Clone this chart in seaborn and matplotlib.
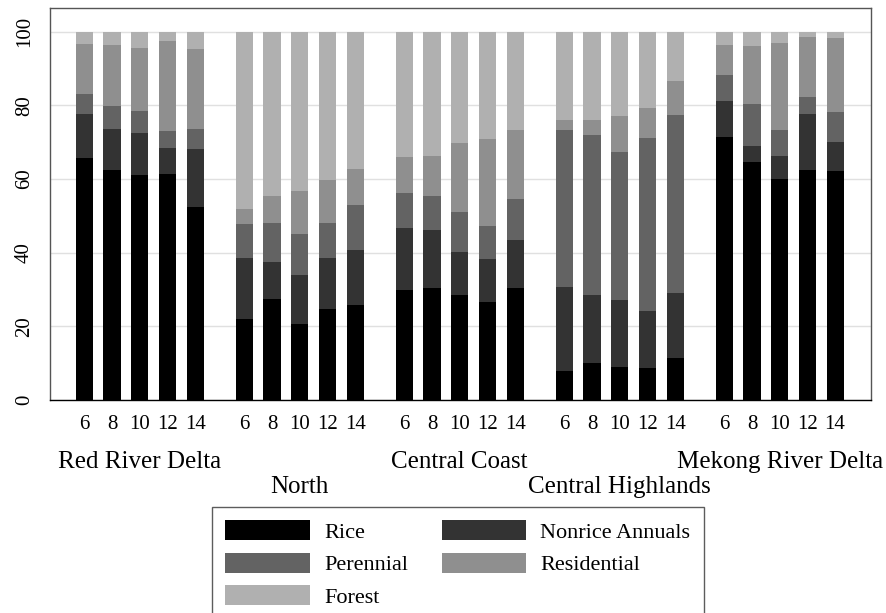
import numpy as np
import pandas as pd
import matplotlib
matplotlib.use("Agg")
import matplotlib.pyplot as plt
from matplotlib.patches import Patch
import seaborn as sns

sns.set_style("white")
plt.rcParams["font.family"] = ["Liberation Serif", "DejaVu Serif"]
plt.rcParams["text.color"] = "black"
plt.rcParams["xtick.labelcolor"] = "black"
plt.rcParams["ytick.labelcolor"] = "black"

# data: share of land (%) by region and survey year
regions = ["Red River Delta", "North", "Central Coast", "Central Highlands", "Mekong River Delta"]
years = ["6", "8", "10", "12", "14"]

rice = [65.8, 62.4, 61.0, 61.4, 52.3,
        21.9, 27.3, 20.6, 24.6, 25.9,
        29.9, 30.3, 28.5, 26.6, 30.3,
        8.0, 10.0, 9.0, 8.7, 11.5,
        71.4, 64.7, 60.0, 62.4, 62.2]
nonrice = [11.8, 11.3, 11.4, 7.1, 15.9,
           16.8, 10.3, 13.4, 14.1, 14.8,
           16.7, 16.0, 11.7, 11.8, 13.1,
           22.6, 18.5, 18.1, 15.4, 17.5,
           9.7, 4.3, 6.4, 15.4, 7.9]
perennial = [5.4, 6.1, 6.1, 4.6, 5.5,
             9.2, 10.5, 11.2, 9.4, 12.2,
             9.7, 9.0, 10.8, 8.9, 11.2,
             42.8, 43.4, 40.3, 47.1, 48.3,
             7.3, 11.5, 7.0, 4.5, 8.2]
residential = [13.7, 16.6, 17.1, 24.3, 21.6,
               4.0, 7.2, 11.5, 11.7, 9.8,
               9.7, 11.1, 18.9, 23.6, 18.7,
               2.7, 4.2, 9.7, 8.1, 9.4,
               8.1, 15.7, 23.7, 16.3, 20.1]
forest = [3.3, 3.6, 4.4, 2.6, 4.7,
          48.1, 44.7, 43.3, 40.2, 37.3,
          34.0, 33.6, 30.1, 29.1, 26.7,
          23.9, 23.9, 22.9, 20.7, 13.3,
          3.5, 3.8, 2.9, 1.4, 1.6]

categories = ["Rice", "Nonrice Annuals", "Perennial", "Residential", "Forest"]
colors = {"Rice": "#000000", "Nonrice Annuals": "#333333", "Perennial": "#636363",
          "Residential": "#8f8f8f", "Forest": "#b0b0b0"}

group_step = 5.776
pos = [g * group_step + j for g in range(len(regions)) for j in range(len(years))]

df = pd.DataFrame({"pos": pos, "Rice": rice, "Nonrice Annuals": nonrice,
                   "Perennial": perennial, "Residential": residential, "Forest": forest})
cum = df[categories].cumsum(axis=1)

fig = plt.figure(figsize=(8.86, 6.13), dpi=100)
ax = fig.add_axes([50 / 886, 1 - 400 / 613, (871 - 50) / 886, (400 - 8.3) / 613])

# stacked bars: draw the tallest cumulative layer first
for cat in categories[::-1]:
    sns.barplot(x=df["pos"], y=cum[cat], native_scale=True, color=colors[cat],
                saturation=1, width=0.62, errorbar=None, linewidth=0, ax=ax)

ax.set_xlim(-1.24, 28.4)
ax.set_ylim(0, 106.4)
ax.set_axisbelow(True)
ax.yaxis.grid(True, color="#e0e0e0", linewidth=1)
ax.set_yticks([0, 20, 40, 60, 80, 100])
ax.set_yticklabels(["0", "20", "40", "60", "80", "100"], rotation=90, va="center", fontsize=15)
ax.tick_params(axis="y", length=6.5, width=1, color="#555555", pad=5, labelcolor="black")
ax.set_xticks(pos)
ax.set_xticklabels(years * len(regions), fontsize=15)
ax.tick_params(axis="x", length=0, pad=11, labelcolor="black")
ax.set_xlabel("")
ax.set_ylabel("")

for side in ["left", "right", "top"]:
    ax.spines[side].set_color("#555555")
    ax.spines[side].set_linewidth(1)
ax.spines["bottom"].set_color("#000000")
ax.spines["bottom"].set_linewidth(1)

# staggered region labels
trans = matplotlib.transforms.blended_transform_factory(ax.transData, ax.transAxes)
for g, name in enumerate(regions):
    yy = -0.158 if g % 2 == 0 else -0.222
    ax.text(g * group_step + 2, yy, name, transform=trans, ha="center", va="center",
            fontsize=18, color="black")

# legend, column-first order
order = ["Rice", "Perennial", "Forest", "Nonrice Annuals", "Residential"]
handles = [Patch(facecolor=colors[c], edgecolor="none", label=c) for c in order]
leg = fig.legend(handles=handles, loc="upper left", bbox_to_anchor=(212 / 886, 1 - 507 / 613),
                 ncol=2, fontsize=16, frameon=True, fancybox=False, borderaxespad=0,
                 handlelength=3.8, handleheight=1.0, handletextpad=0.65,
                 labelspacing=0.45, columnspacing=1.5, borderpad=0.6)
leg.get_frame().set_edgecolor("#333333")
leg.get_frame().set_linewidth(1)
for t in leg.get_texts():
    t.set_color("black")

fig.savefig("out.png", dpi=100)
